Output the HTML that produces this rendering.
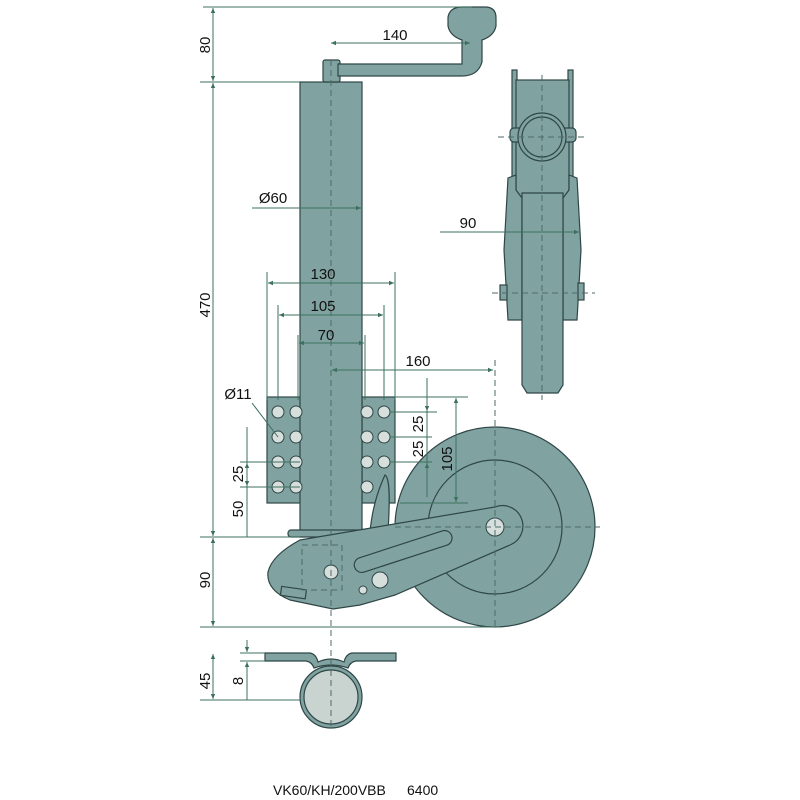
<!DOCTYPE html>
<html><head><meta charset="utf-8"><style>
html,body{margin:0;padding:0;background:#fff}
svg{display:block}
text{font-family:"Liberation Sans",sans-serif;font-size:15px;fill:#111}
</style></head><body>
<svg width="800" height="800" viewBox="0 0 800 800" xmlns="http://www.w3.org/2000/svg">
<defs>
<marker id="a" markerWidth="6" markerHeight="6" refX="5" refY="3" orient="auto-start-reverse"><path d="M0,0.8 L5,3 L0,5.2z" fill="#3d7060"/></marker>
</defs>
<g stroke="#2f4646" stroke-width="1.2" fill="#80a3a1">
<!-- wheel -->
<circle cx="495" cy="527" r="100"/>
<circle cx="495" cy="527" r="67" fill="none"/>
<!-- plates -->
<rect x="267" y="397" width="35" height="106"/>
<rect x="362" y="397" width="33" height="106"/>
<!-- column -->
<rect x="300" y="82" width="62" height="450"/>
<!-- pawl -->
<path d="M370,532 C372,510 378,490 385,475 C390,478 390,500 388,532 Z"/>
<!-- base plate -->
<rect x="288" y="530" width="80" height="7" rx="3"/>
<!-- arm -->
<path d="M300,540 L495,507 A18,18 0 0 1 510,545 L395,595 L360,605 L333,609 L290,600 Q266,590 268,572 Q272,555 300,540 Z"/>
<rect x="352" y="544" width="102" height="15" rx="7.5" transform="rotate(-18 403 551)"/>
<rect x="281" y="588" width="25" height="9" transform="rotate(8 293 592)"/>
<!-- crank -->
<rect x="323" y="60" width="17" height="22" rx="2"/>
<path d="M338,64 L462,64 L462,40 Q450,36 448,26 L448,17 Q450,7 462,7 L485,7 Q496,7 496,18 L496,26 Q494,36 482,40 L482,62 Q478,76 462,76 L338,76 Z"/>
<!-- side view -->
<rect x="512" y="70" width="5" height="110"/>
<rect x="568" y="70" width="5" height="110"/>
<rect x="516" y="80" width="53" height="117"/>
<path d="M508,178 L516,175 L516,190 L522,198 L522,320 L508,320 L504,250 Z"/>
<path d="M577,178 L569,175 L569,190 L563,198 L563,320 L577,320 L581,250 Z"/>
<rect x="510" y="128" width="66" height="14" rx="4"/>
<circle cx="542" cy="137" r="24"/>
<circle cx="542" cy="137" r="20" fill="none"/>
<path d="M522,193 L563,193 L563,385 L558,393 L527,393 L522,385 Z"/>
<rect x="500" y="285" width="7" height="15"/>
<rect x="578" y="283" width="6" height="17"/>
<!-- bottom section -->
<path d="M265,653 L310,653 Q316,654 318,662 Q331,656 344,662 Q346,654 352,653 L396,653 L396,661 L356,661 Q350,662 348,668 Q331,662 314,668 Q312,662 306,661 L265,661 Z"/>
<circle cx="331" cy="697" r="31"/>
<circle cx="331" cy="697" r="27" fill="#c9d4d1"/>
</g>
<!-- holes -->
<g fill="#d7dfdc" stroke="#2f4646" stroke-width="1">
<circle cx="278" cy="412" r="6"/><circle cx="296" cy="412" r="6"/><circle cx="367" cy="412" r="6"/><circle cx="384" cy="412" r="6"/>
<circle cx="278" cy="437" r="6"/><circle cx="296" cy="437" r="6"/><circle cx="367" cy="437" r="6"/><circle cx="384" cy="437" r="6"/>
<circle cx="278" cy="462" r="6"/><circle cx="296" cy="462" r="6"/><circle cx="367" cy="462" r="6"/><circle cx="384" cy="462" r="6"/>
<circle cx="278" cy="487" r="6"/><circle cx="296" cy="487" r="6"/><circle cx="367" cy="487" r="6"/>
<circle cx="495" cy="527" r="9"/>
<circle cx="331" cy="572" r="7"/><circle cx="380" cy="580" r="8"/><circle cx="363" cy="590" r="4"/>
</g>
<!-- centre lines -->
<g stroke="#4d6b68" stroke-width="1" stroke-dasharray="6,4" fill="none">
<line x1="331" y1="60" x2="331" y2="730"/>
<line x1="495" y1="360" x2="495" y2="630"/>
<line x1="395" y1="527" x2="600" y2="527"/>
<line x1="542" y1="75" x2="542" y2="400"/>
<line x1="498" y1="137" x2="585" y2="137"/>
<line x1="492" y1="293" x2="595" y2="293"/>
<path d="M302,545 h40 v45 h-40 z"/>
</g>
<!-- dimension lines -->
<g stroke="#3d7060" stroke-width="1" fill="none">
<line x1="203" y1="7" x2="472" y2="7"/>
<line x1="200" y1="82" x2="300" y2="82"/>
<line x1="200" y1="537" x2="300" y2="537"/>
<line x1="200" y1="627" x2="500" y2="627"/>
<line x1="213" y1="8" x2="213" y2="81" marker-start="url(#a)" marker-end="url(#a)"/>
<line x1="213" y1="83" x2="213" y2="536" marker-start="url(#a)" marker-end="url(#a)"/>
<line x1="213" y1="538" x2="213" y2="626" marker-start="url(#a)" marker-end="url(#a)"/>
<line x1="331" y1="43" x2="470" y2="43" marker-start="url(#a)" marker-end="url(#a)"/>
<line x1="252" y1="208" x2="361" y2="208" marker-end="url(#a)"/>
<line x1="267" y1="272" x2="267" y2="400"/><line x1="395" y1="272" x2="395" y2="400"/>
<line x1="278" y1="305" x2="278" y2="400"/><line x1="384" y1="305" x2="384" y2="400"/>
<line x1="298" y1="335" x2="298" y2="400"/><line x1="365" y1="335" x2="365" y2="400"/>
<line x1="268" y1="283" x2="394" y2="283" marker-start="url(#a)" marker-end="url(#a)"/>
<line x1="279" y1="315" x2="383" y2="315" marker-start="url(#a)" marker-end="url(#a)"/>
<line x1="299" y1="343" x2="364" y2="343" marker-start="url(#a)" marker-end="url(#a)"/>
<line x1="332" y1="370" x2="493" y2="370" marker-start="url(#a)" marker-end="url(#a)"/>
<line x1="252" y1="403" x2="278" y2="437"/>
<line x1="240" y1="462" x2="300" y2="462"/><line x1="240" y1="487" x2="300" y2="487"/>
<line x1="247" y1="427" x2="247" y2="537" />
<line x1="247" y1="463" x2="247" y2="486" marker-start="url(#a)" marker-end="url(#a)"/>
<line x1="395" y1="397" x2="468" y2="397"/><line x1="390" y1="412" x2="437" y2="412"/>
<line x1="390" y1="437" x2="432" y2="437"/><line x1="390" y1="462" x2="432" y2="462"/>
<line x1="400" y1="503" x2="468" y2="503"/>
<line x1="427" y1="378" x2="427" y2="497"/>
<line x1="427" y1="398" x2="427" y2="411" marker-end="url(#a)"/>
<line x1="427" y1="480" x2="427" y2="463" marker-end="url(#a)"/>
<line x1="456" y1="398" x2="456" y2="502" marker-start="url(#a)" marker-end="url(#a)"/>
<line x1="440" y1="232" x2="579" y2="232" marker-end="url(#a)"/>
<line x1="200" y1="700" x2="300" y2="700"/>
<line x1="240" y1="653" x2="265" y2="653"/><line x1="240" y1="661" x2="265" y2="661"/>
<line x1="213" y1="654" x2="213" y2="699" marker-start="url(#a)" marker-end="url(#a)"/>
<line x1="247" y1="640" x2="247" y2="652" marker-end="url(#a)"/>
<line x1="247" y1="700" x2="247" y2="662" marker-end="url(#a)"/>
</g>
<!-- labels -->
<text x="395" y="40" text-anchor="middle">140</text>
<text x="273" y="203" text-anchor="middle">Ø60</text>
<text x="323" y="279" text-anchor="middle">130</text>
<text x="323" y="311" text-anchor="middle">105</text>
<text x="326" y="340" text-anchor="middle">70</text>
<text x="418" y="366" text-anchor="middle">160</text>
<text x="238" y="399" text-anchor="middle">Ø11</text>
<text x="468" y="228" text-anchor="middle">90</text>
<text transform="translate(210,45) rotate(-90)" text-anchor="middle">80</text>
<text transform="translate(210,305) rotate(-90)" text-anchor="middle">470</text>
<text transform="translate(210,580) rotate(-90)" text-anchor="middle">90</text>
<text transform="translate(243,474) rotate(-90)" text-anchor="middle">25</text>
<text transform="translate(243,509) rotate(-90)" text-anchor="middle">50</text>
<text transform="translate(423,424) rotate(-90)" text-anchor="middle">25</text>
<text transform="translate(423,449) rotate(-90)" text-anchor="middle">25</text>
<text transform="translate(452,459) rotate(-90)" text-anchor="middle">105</text>
<text transform="translate(210,681) rotate(-90)" text-anchor="middle">45</text>
<text transform="translate(243,681) rotate(-90)" text-anchor="middle">8</text>
<text x="273" y="795" style="font-size:14px">VK60/KH/200VBB</text>
<text x="407" y="795" style="font-size:14px">6400</text>
</svg>
</body></html>
